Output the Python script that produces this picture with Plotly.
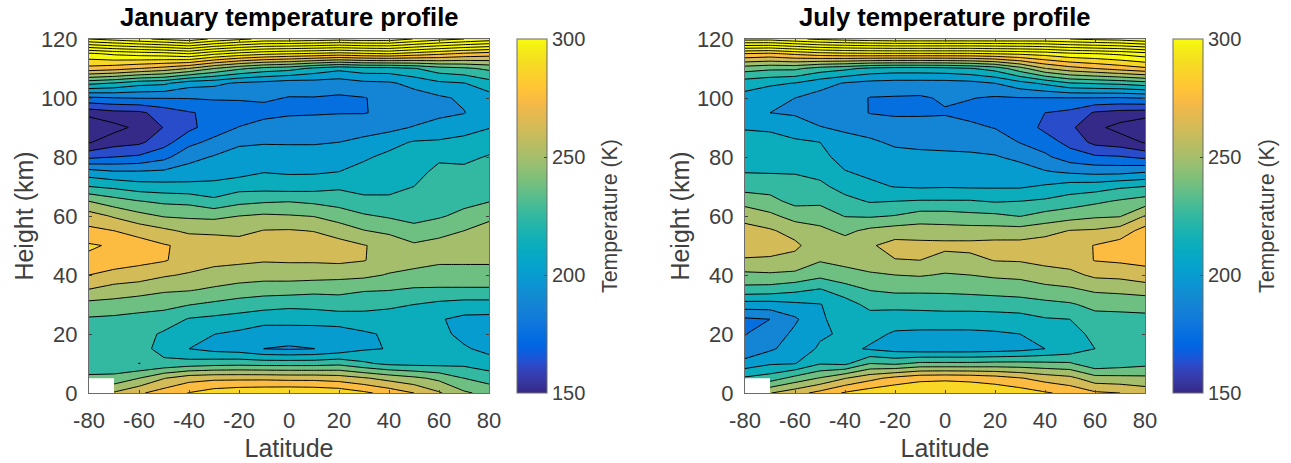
import plotly.graph_objects as go

W, H = 1291, 463
nan = None

latitudes = [-80, -70, -60, -50, -40, -30, -20, -10, 0, 10, 20, 30, 40, 50, 60, 70, 80]
heights = list(range(0, 125, 5))

# January temperature (K): one list per latitude, bottom (0 km) to top (120 km)
jan_m80 = [nan,240,230,227,227,236,246,262,275,285,289,278,268,250,225,205,172,149,137,155,185,228,283,310,375]
jan_m70 = [264,241,229,227,229,235,245,258,270,283,286,275,261,243,222,201,175,157,146,159,187,224,280,315,380]
jan_m60 = [273,250,224.9,228,230,234,242,256,268,279,281,270,254,238,218,201,177,160,153,160,188,217,275,318,385]
jan_m50 = [281,262,227,222,223,232,241,252,264,276,276,265,249,235,217,202,184,170,163,168,188,215,270,320,390]
jan_m40 = [288,270,230,212.5,218,224,238,251,261,270,272,260,248,234,216,205,196,184,172,174,188,205,262,325,395]
jan_m30 = [294,272,232,208,212.7,222,235,248,258,266,269,260,247,228,216,207,201,191,181,178,189,203,250,315,385]
jan_m20 = [297,272,233,206,210,220,232,245,256,265,268,259,250,234,220,208,205,198,188,180,189,198,240,308,378]
jan_m10 = [298,272,232,199.9,206,217,230,243,255,263.5,270,263,252,236,220,212,206,199,192,184,189,196,233,303,372]
jan_p00 = [299,271,232,198.5,206,217,228,243,255,264,270,263.5,251,237,219,211,205,199,193,186,187,193,230,300,372]
jan_p10 = [298,271,232,199.9,206.5,217,229,241,255,264,270,262,249.5,235,220,211,205,199,193,186.5,187,194,222,298,370]
jan_p20 = [296,269,234,204,207,218,231,241,254,265,268,256,245,232,223,212.5,206,200,194,187,186,193,216,295,368]
jan_p30 = [290,264,227,211,211,219,230,238.5,253,263,263,250.5,239,228,221,216,211,203,195,187,187,197,220,298,370]
jan_p40 = [283,258,222,213,214,218,228,238,249,257,259,247,236,228,221,218,215,209,196,190,191,198,220,300,370]
jan_p50 = [275,253,221,215,215,218,225,236,247,254,252,241,234,229,225,221,217.5,213.5,201,192,194,204,224,295,362]
jan_p60 = [264,247,221,218,216,213.5,222,236,245,252,254,246,236,234,232,228,223,214,205,197,198,210,232,290,355]
jan_p70 = [252,237.5,222,214,209,209.5,220,236,245,252,256,250,241,234,230,228,222,216,208,199.5,202,212,235,285,350]
jan_p80 = [246,232,218,209,206,209,220,236,245,252,257,255,247,237,232,228,226,219,212,207,207,220,240,282,345]

# July temperature (K)
jul_m80 = [nan,227,205,190,187.2,185.5,207,233,247,261,270,268,257,246,232,224.5,219,215,212,208,208,218,243,287,355]
jul_m70 = [262,231,211,198,192,187.5,207,232,248,261,267,264,253,241,233,224,220,216,211,200,202,215,240,285,355]
jul_m60 = [270,242,212,206,203,198,210,228,247,258.5,265,258,245,234,230,224,219,214.5,206,198.5,200,212,240,290,360]
jul_m50 = [279,251,224,214,211,211.3,212,224,241,251,255,253,244,235,228,221,216,212.5,200.5,195,195,205,232,295,365]
jul_m40 = [289,262,222,216,214,216,219,232,245,254,256,247,237,229,220,213,208,204,198,194,193,199,228,297,368]
jul_m30 = [295,271,237.5,211,216,219,229,238,249,254,261,253,236,224,215,210,206,202,195,187,187,196,222,298,370]
jul_m20 = [298,279,235,207,211,218,229,240,250,262,267,256,238,225,212,208,204,198,192,186,186.5,195,220,298,372]
jul_m10 = [299,284,240,205,210,219,229,240,251,262.5,266,256,243,226,211,207,203,197,192,186,186,195,220,298,372]
jul_p00 = [299,285,240,205,210,219,230,240,249,257,266,255,243,226,211.5,206,202.5,196.5,192,186.5,189,195,221,298,372]
jul_p10 = [298,284,240,205,210,219,230,241,250,259,266,255,241,226,211,206,202,196,190,184,188,196,224,298,372]
jul_p20 = [297,281,241,206,211,219,231,242,252,263,267,255,240,224,211,206,201,194,187,181,186,200,230,300,372]
jul_p30 = [294,276,241,208,212.5,220,232,243,253,263.5,267,255,237,225,211,205.5,197,187,182,180,187,208,245,302,372]
jul_p40 = [289,270,240,212.5,218,224,234,246,257,266,269,258,242,227,214,201,190,181,172,175,187,215,262,305,372]
jul_p50 = [284,266,239,217,219,225,236,248,259,268,270,263,245,231,218,198,181,171,165,172,187,224,270,310,375]
jul_p60 = [277,255,228,225,229,233,241,252,265,275.5,275.5,264,248,235,219,196,177,159,153,161,187,226,275,312,378]
jul_p70 = [275,254,231,225.5,228,233,242,253,266,277,280,268,249,239,223,196,176,156,146,158,186.5,228,280,315,380]
jul_p80 = [270,253,234,226,229,235,241,256,269,279,285,280,263,243,225,199,172,149,138,157,188,232,285,320,385]

jan_cols = [jan_m80, jan_m70, jan_m60, jan_m50, jan_m40, jan_m30, jan_m20, jan_m10, jan_p00,
            jan_p10, jan_p20, jan_p30, jan_p40, jan_p50, jan_p60, jan_p70, jan_p80]
jul_cols = [jul_m80, jul_m70, jul_m60, jul_m50, jul_m40, jul_m30, jul_m20, jul_m10, jul_p00,
            jul_p10, jul_p20, jul_p30, jul_p40, jul_p50, jul_p60, jul_p70, jul_p80]

x_ticks = [-80, -60, -40, -20, 0, 20, 40, 60, 80]
x_tick_labels = ["-80", "-60", "-40", "-20", "0", "20", "40", "60", "80"]
y_ticks = [0, 20, 40, 60, 80, 100, 120]
cbar_ticks = [150, 200, 250, 300]

PARULA = """.2081 .1663 .5292|.2116 .1898 .5777|.2123 .2138 .6270|.2081 .2386 .6771|.1959 .2645 .7279|.1707 .2919 .7792|.1253 .3242 .8303|.0591 .3598 .8683|.0117 .3875 .8820|.0060 .4086 .8828|.0165 .4266 .8786|.0329 .4430 .8720|.0498 .4586 .8641|.0629 .4737 .8554|.0723 .4887 .8467|.0779 .5040 .8384|.0793 .5200 .8312|.0749 .5375 .8263|.0641 .5570 .8240|.0488 .5772 .8228|.0343 .5966 .8199|.0265 .6137 .8135|.0239 .6287 .8038|.0231 .6418 .7913|.0228 .6535 .7768|.0267 .6642 .7607|.0384 .6743 .7436|.0590 .6838 .7254|.0843 .6928 .7062|.1133 .7015 .6859|.1453 .7098 .6646|.1801 .7177 .6424|.2178 .7250 .6193|.2586 .7317 .5954|.3022 .7376 .5712|.3482 .7424 .5473|.3953 .7459 .5244|.4420 .7481 .5033|.4871 .7491 .4840|.5300 .7491 .4661|.5709 .7485 .4494|.6099 .7473 .4337|.6473 .7456 .4188|.6834 .7435 .4044|.7184 .7411 .3905|.7525 .7384 .3768|.7858 .7356 .3633|.8185 .7327 .3498|.8507 .7299 .3360|.8824 .7274 .3217|.9139 .7258 .3063|.9450 .7261 .2886|.9739 .7314 .2666|.9938 .7455 .2403|.9990 .7653 .2164|.9955 .7861 .1967|.9880 .8066 .1794|.9789 .8271 .1633|.9697 .8481 .1475|.9626 .8705 .1309|.9589 .8949 .1132|.9598 .9218 .0948|.9661 .9514 .0755|.9763 .9831 .0538"""
parula = [tuple(float(v) for v in row.split()) for row in PARULA.split("|")]


def parula_at(t):
    t = min(max(t, 0.0), 1.0) * (len(parula) - 1)
    i = min(int(t), len(parula) - 2)
    f = t - i
    c = [parula[i][k] * (1 - f) + parula[i + 1][k] * f for k in range(3)]
    return "rgb(%d,%d,%d)" % tuple(round(255 * v) for v in c)


CMIN, CMAX = 150.0, 300.0
LEVEL_START, LEVEL_END, LEVEL_STEP = 150.0, 400.0, 12.5
n_levels = int((LEVEL_END - LEVEL_START) / LEVEL_STEP) + 1

# Each band takes the colour of its lower level, as in a MATLAB contourf.
band_scale = [[0.0, parula_at(0.0)]]
for k in range(n_levels):
    lvl = LEVEL_START + k * LEVEL_STEP
    band_scale.append([(k + 1) / n_levels, parula_at((lvl - CMIN) / (CMAX - CMIN))])
bar_scale = [[i / 63, parula_at(i / 63)] for i in range(64)]

AX_T, AX_B = 39, 393
panels = [
    dict(cols=jan_cols, title="January temperature profile", ax=(89, 489), cb=(517, 547), lab=610, xa="x", ya="y"),
    dict(cols=jul_cols, title="July temperature profile", ax=(745, 1145), cb=(1173, 1203), lab=1267, xa="x2", ya="y2"),
]

TXT = "#404040"
FONT = "Liberation Sans, Arial, sans-serif"
AXC = "#6b6b6b"

fig = go.Figure()
annotations = []
layout_axes = {}
for i, p in enumerate(panels):
    z = [list(r) for r in zip(*p["cols"])]
    fig.add_trace(go.Contour(
        x=latitudes, y=heights, z=z, xaxis=p["xa"], yaxis=p["ya"],
        autocontour=False,
        contours=dict(start=LEVEL_START, end=LEVEL_END, size=LEVEL_STEP, coloring="fill"),
        colorscale=band_scale, showscale=False,
        line=dict(color="black", width=1, smoothing=0),
        hoverinfo="skip", connectgaps=False,
    ))
    # The grid cell around the missing surface value stays blank.
    fig.add_trace(go.Scatter(
        x=[latitudes[0], latitudes[1], latitudes[1], latitudes[0], latitudes[0]],
        y=[heights[0], heights[0], heights[1], heights[1], heights[0]],
        xaxis=p["xa"], yaxis=p["ya"], mode="lines", fill="toself", fillcolor="white",
        line=dict(width=0, color="white"), hoverinfo="skip", showlegend=False,
    ))
    fig.add_trace(go.Scatter(
        x=[latitudes[0]], y=[-50], xaxis=p["xa"], yaxis=p["ya"], mode="markers",
        hoverinfo="skip", showlegend=False,
        marker=dict(
            size=1, color=[CMIN], cmin=CMIN, cmax=CMAX, colorscale=bar_scale, showscale=True,
            colorbar=dict(
                x=p["cb"][0] / W, xanchor="left", xpad=0, ypad=0,
                y=1 - (AX_T + AX_B) / 2 / H, yanchor="middle",
                len=(AX_B - AX_T) / H, lenmode="fraction",
                thickness=p["cb"][1] - p["cb"][0], thicknessmode="pixels",
                outlinecolor=AXC, outlinewidth=1,
                tickmode="array", tickvals=cbar_ticks, ticks="inside", ticklen=3,
                tickcolor=TXT, tickwidth=1, tickprefix="\u2006",
                tickfont=dict(family=FONT, size=20, color=TXT),
            ),
        ),
    ))
    suffix = "" if i == 0 else "2"
    common = dict(showline=True, linecolor=AXC, linewidth=1, mirror="ticks", ticks="inside",
                  ticklen=3, tickcolor=TXT, tickwidth=1, showgrid=False, zeroline=False,
                  tickfont=dict(family=FONT, size=22, color=TXT), tickmode="array")
    layout_axes["xaxis" + suffix] = dict(
        domain=[p["ax"][0] / W, p["ax"][1] / W], range=[-80, 80],
        tickvals=x_ticks, ticktext=x_tick_labels, anchor=p["ya"],
        title=dict(text="Latitude", font=dict(family=FONT, size=25, color=TXT), standoff=7),
        ticklabelstandoff=8, **common)
    layout_axes["yaxis" + suffix] = dict(
        domain=[1 - AX_B / H, 1 - AX_T / H], range=[0, 120], tickvals=y_ticks, anchor=p["xa"],
        title=dict(text="Height (km)", font=dict(family=FONT, size=25, color=TXT), standoff=0),
        ticklabelstandoff=6, **common)
    annotations.append(dict(
        text="<b>%s</b>" % p["title"], xref="paper", yref="paper",
        x=sum(p["ax"]) / 2 / W, y=1 - 17 / H, xanchor="center", yanchor="middle", showarrow=False,
        font=dict(family=FONT, size=25.6, color="black")))
    annotations.append(dict(
        text="Temperature (K)", xref="paper", yref="paper",
        x=p["lab"] / W, y=1 - 216 / H, xanchor="center", yanchor="middle", showarrow=False,
        textangle=-90, font=dict(family=FONT, size=21.3, color=TXT)))

fig.update_layout(
    width=W, height=H, autosize=False,
    margin=dict(l=0, r=0, t=0, b=0, pad=0, autoexpand=False),
    paper_bgcolor="white", plot_bgcolor="white", showlegend=False,
    annotations=annotations, **layout_axes,
)

fig.write_html("out.html", config={"displayModeBar": False},
               post_script="document.body.style.margin='0';document.body.style.overflow='hidden';")
